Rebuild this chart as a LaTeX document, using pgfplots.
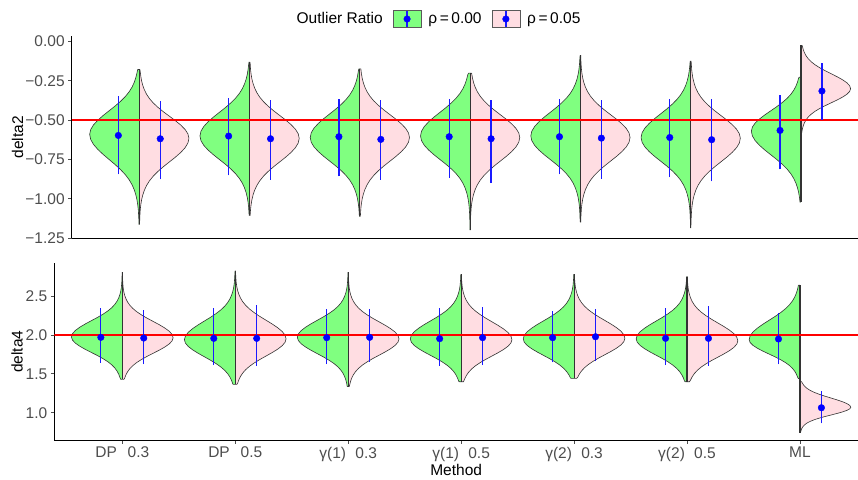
\documentclass[border=0pt]{standalone}
\usepackage{pgfplots}
\pgfplotsset{compat=1.18}
\usepackage{pgfplotstable}
\usepackage{fontspec}
\setmainfont{Liberation Sans}
\definecolor{vgreen}{HTML}{80FF80}
\definecolor{vpink}{HTML}{FFDDE2}
\definecolor{outl}{HTML}{333333}
\definecolor{tickgray}{HTML}{4D4D4D}
\definecolor{barblue}{HTML}{1A1AFF}

% normalised half-violin outline: z = offset from mode in spread units, w = relative half-width
\pgfplotstableread{
z w
-9 0
-6.0 0.0003
-5.0 0.001
-4.0 0.003
-3.6 0.006
-3.3 0.011
-3.0 0.020
-2.8 0.031
-2.6 0.047
-2.4 0.070
-2.2 0.102
-2.0 0.146
-1.8 0.205
-1.6 0.282
-1.4 0.377
-1.2 0.487
-1.0 0.607
-0.8 0.727
-0.6 0.835
-0.4 0.923
-0.2 0.980
0.0 1.000
0.2 0.980
0.4 0.923
0.6 0.835
0.8 0.727
1.0 0.607
1.2 0.487
1.4 0.377
1.6 0.282
1.8 0.205
2.0 0.146
2.2 0.102
2.4 0.070
2.6 0.047
2.8 0.031
3.0 0.020
3.3 0.011
3.6 0.006
4.0 0.003
5.0 0.001
6.0 0.0003
9 0
}\vshape

% points: means
\pgfplotstableread{
x y
0.81 -0.597
1.19 -0.618
1.81 -0.601
2.19 -0.618
2.81 -0.605
3.19 -0.622
3.81 -0.605
4.19 -0.618
4.81 -0.605
5.19 -0.614
5.81 -0.610
6.19 -0.624
6.81 -0.565
7.19 -0.315
}\toppts

% intervals (segments separated by nan)
\pgfplotstableread{
x y
0.81 -0.844
0.81 -0.349
nan nan
1.19 -0.876
1.19 -0.381
nan nan
1.81 -0.851
1.81 -0.362
nan nan
2.19 -0.878
2.19 -0.370
nan nan
2.81 -0.857
2.81 -0.368
nan nan
3.19 -0.878
3.19 -0.375
nan nan
3.81 -0.866
3.81 -0.364
nan nan
4.19 -0.900
4.19 -0.370
nan nan
4.81 -0.844
4.81 -0.366
nan nan
5.19 -0.872
5.19 -0.370
nan nan
5.81 -0.861
5.81 -0.364
nan nan
6.19 -0.889
6.19 -0.368
nan nan
6.81 -0.813
6.81 -0.337
nan nan
7.19 -0.497
7.19 -0.135
}\topbars

\pgfplotstableread{
x y
0.81 1.970
1.19 1.961
1.81 1.957
2.19 1.957
2.81 1.966
3.19 1.970
3.81 1.953
4.19 1.966
4.81 1.966
5.19 1.978
5.81 1.957
6.19 1.957
6.81 1.949
7.19 1.064
}\botpts

\pgfplotstableread{
x y
0.81 1.644
0.81 2.344
nan nan
1.19 1.627
1.19 2.322
nan nan
1.81 1.614
1.81 2.352
nan nan
2.19 1.605
2.19 2.382
nan nan
2.81 1.627
2.81 2.331
nan nan
3.19 1.657
3.19 2.331
nan nan
3.81 1.605
3.81 2.352
nan nan
4.19 1.614
4.19 2.361
nan nan
4.81 1.648
4.81 2.309
nan nan
5.19 1.665
5.19 2.335
nan nan
5.81 1.614
5.81 2.352
nan nan
6.19 1.601
6.19 2.373
nan nan
6.81 1.622
6.81 2.287
nan nan
7.19 0.864
7.19 1.279
}\botbars

% #1 centre, #2 side, #3 mode, #4 lower spread, #5 upper spread, #6 lower tip, #7 upper tip, #8 fill
\newcommand{\halfv}[8]{%
 \addplot[draw=outl, line width=0.6pt, fill=#8, forget plot]
   table[x expr={#1+(#2)*0.45*\thisrow{w}},
         y expr={max(#6,min(#7,#3+\thisrow{z}*(\thisrow{z}<0 ? #4 : #5)))}] {\vshape};
}
\newcommand{\vcentre}[3]{%
 \addplot[outl, line width=1.1pt, forget plot] coordinates {(#1,#2) (#1,#3)};
}

\pgfplotsset{
  myaxis/.style={
    scale only axis,
    axis x line*=bottom, axis y line*=left,
    axis line style={-, black, line width=0.9pt},
    tick align=outside, major tick length=3.5pt,
    tick style={tickgray, line width=0.9pt},
    tick label style={font=\fontsize{15.5}{18}\selectfont, text=tickgray},
    label style={font=\fontsize{15.5}{18}\selectfont, text=black},
    clip=true,
  }
}

\begin{document}
\begin{tikzpicture}
\useasboundingbox (0,0) rectangle (858pt,479pt);

% ---------------- top panel ----------------
\begin{axis}[myaxis,
  at={(71.7pt,240.7pt)}, anchor=south west,
  width=786.3pt, height=202.3pt,
  xmin=0.387, xmax=7.517, ymin=-1.25, ymax=0.0345,
  xtick=\empty,
  ytick={-1.25,-1,-0.75,-0.5,-0.25,0},
  yticklabels={−1.25,−1.00,−0.75,−0.50,−0.25,0.00},
  ylabel={delta2},
  ylabel style={at={(axis description cs:-0.0689,0.5)}, anchor=center},
  legend style={at={(axis description cs:0.4665,1.084)}, anchor=center, draw=none, fill=none,
     font=\fontsize{15.5}{18}\selectfont, legend columns=3,
     /tikz/every even column/.append style={column sep=8pt}},
]
\addlegendimage{empty legend}
\addlegendentry{Outlier Ratio}
\addlegendimage{legend image code/.code={%
  \draw[draw=gray!70!black, fill=vgreen, line width=0.6pt] (0pt,-8.5pt) rectangle (28pt,8.5pt);
  \draw[barblue, line width=1.3pt] (14pt,-7.5pt) -- (14pt,7.5pt);
  \fill[blue] (14pt,0pt) circle (3.3pt);}}
\addlegendentry{\hspace{5pt}ρ\,=\,0.00}
\addlegendimage{legend image code/.code={%
  \draw[draw=gray!70!black, fill=vpink, line width=0.6pt] (0pt,-8.5pt) rectangle (28pt,8.5pt);
  \draw[barblue, line width=1.3pt] (14pt,-7.5pt) -- (14pt,7.5pt);
  \fill[blue] (14pt,0pt) circle (3.3pt);}}
\addlegendentry{\hspace{5pt}ρ\,=\,0.05}

\halfv{1}{-1}{-0.59}{0.16}{0.15}{-1.162}{-0.178}{vgreen}
\halfv{1}{1}{-0.615}{0.15}{0.14}{-1.162}{-0.178}{vpink}
\halfv{2}{-1}{-0.60}{0.15}{0.15}{-1.105}{-0.131}{vgreen}
\halfv{2}{1}{-0.615}{0.15}{0.145}{-1.105}{-0.131}{vpink}
\halfv{3}{-1}{-0.61}{0.15}{0.15}{-1.111}{-0.174}{vgreen}
\halfv{3}{1}{-0.61}{0.15}{0.145}{-1.111}{-0.174}{vpink}
\halfv{4}{-1}{-0.60}{0.15}{0.15}{-1.196}{-0.201}{vgreen}
\halfv{4}{1}{-0.61}{0.15}{0.145}{-1.196}{-0.201}{vpink}
\halfv{5}{-1}{-0.60}{0.15}{0.15}{-1.147}{-0.089}{vgreen}
\halfv{5}{1}{-0.61}{0.15}{0.145}{-1.147}{-0.089}{vpink}
\halfv{6}{-1}{-0.61}{0.15}{0.15}{-1.183}{-0.125}{vgreen}
\halfv{6}{1}{-0.615}{0.15}{0.145}{-1.183}{-0.125}{vpink}
\halfv{7}{-1}{-0.57}{0.15}{0.13}{-1.020}{-0.227}{vgreen}
\halfv{7}{1}{-0.30}{0.09}{0.095}{-0.586}{-0.025}{vpink}

\vcentre{1}{-1.162}{-0.178}
\vcentre{2}{-1.105}{-0.131}
\vcentre{3}{-1.111}{-0.174}
\vcentre{4}{-1.196}{-0.201}
\vcentre{5}{-1.147}{-0.089}
\vcentre{6}{-1.183}{-0.125}
\vcentre{7}{-1.020}{-0.025}

\addplot[red, line width=1.7pt, forget plot] coordinates {(0.387,-0.5) (7.517,-0.5)};

\addplot[barblue, line width=1.3pt, forget plot, unbounded coords=jump] table[x=x, y=y] {\topbars};
\addplot[only marks, mark=*, mark size=3.3pt, blue, forget plot] table[x=x, y=y] {\toppts};
\end{axis}

% ---------------- bottom panel ----------------
\begin{axis}[myaxis,
  at={(54.3pt,39pt)}, anchor=south west,
  width=803.7pt, height=176.7pt,
  xmin=0.398, xmax=7.514, ymin=0.649, ymax=2.923,
  xtick={1,2,3,4,5,6,7},
  xticklabels={DP\hspace{0.7em}0.3, DP\hspace{0.7em}0.5, γ(1)\hspace{0.6em}0.3, γ(1)\hspace{0.6em}0.5, γ(2)\hspace{0.6em}0.3, γ(2)\hspace{0.6em}0.5, ML},
  ytick={1,1.5,2,2.5},
  yticklabels={1.0,1.5,2.0,2.5},
  ylabel={delta4},
  ylabel style={at={(axis description cs:-0.0462,0.5)}, anchor=center},
  xlabel={Method},
  xlabel style={at={(axis description cs:0.5,0)}, anchor=center, yshift=-30pt},
]
\halfv{1}{-1}{1.975}{0.20}{0.21}{1.430}{2.807}{vgreen}
\halfv{1}{1}{1.965}{0.20}{0.21}{1.430}{2.807}{vpink}
\halfv{2}{-1}{1.94}{0.22}{0.24}{1.365}{2.824}{vgreen}
\halfv{2}{1}{1.95}{0.22}{0.24}{1.365}{2.824}{vpink}
\halfv{3}{-1}{1.97}{0.21}{0.22}{1.335}{2.807}{vgreen}
\halfv{3}{1}{1.95}{0.21}{0.22}{1.335}{2.807}{vpink}
\halfv{4}{-1}{1.95}{0.21}{0.23}{1.399}{2.781}{vgreen}
\halfv{4}{1}{1.94}{0.21}{0.23}{1.399}{2.781}{vpink}
\halfv{5}{-1}{1.95}{0.21}{0.23}{1.442}{2.781}{vgreen}
\halfv{5}{1}{1.957}{0.21}{0.23}{1.442}{2.781}{vpink}
\halfv{6}{-1}{1.95}{0.21}{0.23}{1.399}{2.750}{vgreen}
\halfv{6}{1}{1.925}{0.21}{0.23}{1.399}{2.750}{vpink}
\halfv{7}{-1}{1.94}{0.185}{0.25}{1.44}{2.643}{vgreen}
\halfv{7}{1}{1.07}{0.10}{0.12}{0.743}{1.40}{vpink}

\vcentre{1}{1.430}{2.807}
\vcentre{2}{1.365}{2.824}
\vcentre{3}{1.335}{2.807}
\vcentre{4}{1.399}{2.781}
\vcentre{5}{1.442}{2.781}
\vcentre{6}{1.399}{2.750}
\vcentre{7}{0.743}{2.643}

\addplot[red, line width=1.7pt, forget plot] coordinates {(0.398,2) (7.514,2)};

\addplot[barblue, line width=1.3pt, forget plot, unbounded coords=jump] table[x=x, y=y] {\botbars};
\addplot[only marks, mark=*, mark size=3.3pt, blue, forget plot] table[x=x, y=y] {\botpts};
\end{axis}
\end{tikzpicture}
\end{document}
